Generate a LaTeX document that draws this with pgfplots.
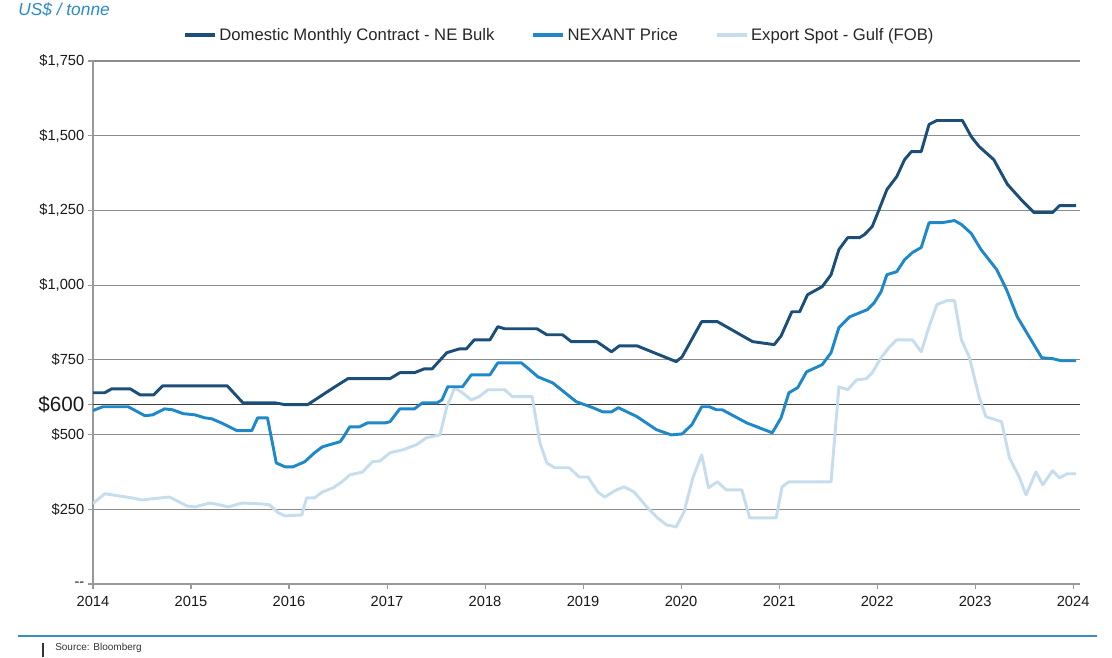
\documentclass[border=0pt]{standalone}
\usepackage{pgfplots}
\pgfplotsset{compat=1.18}
\usepackage{fontspec}
\setmainfont{Liberation Sans}
\definecolor{domc}{HTML}{1B4F7A}
\definecolor{nexc}{HTML}{1F88C8}
\definecolor{expc}{HTML}{C6DDEE}
\definecolor{ttl}{HTML}{2A8BC8}
\definecolor{rule}{HTML}{3A8FC4}
\begin{document}
\begin{tikzpicture}
\useasboundingbox (0pt,0pt) rectangle (834pt,492.75pt);
\begin{axis}[
  at={(69.75pt,54.75pt)}, anchor=south west,
  scale only axis, width=740.25pt, height=392.25pt,
  xmin=2014, xmax=2024.07, ymin=0, ymax=1750,
  axis lines=left,
  axis line style={-, draw=black!40, line width=0.9pt},
  xtick={2014,2015,2016,2017,2018,2019,2020,2021,2022,2023,2024},
  xticklabels={2014,2015,2016,2017,2018,2019,2020,2021,2022,2023,2024},
  ytick={0,250,500,750,1000,1250,1500,1750},
  yticklabels={{-{}-},\$250,\$500,\$750,{\$1,000},{\$1,250},{\$1,500},{\$1,750}},
  extra y ticks={600},
  extra y tick labels={{\fontsize{15.5}{17}\selectfont\$600}},
  extra y tick style={grid style={black!75, line width=1.1pt}},
  ymajorgrids,
  grid style={black!45, line width=0.8pt},
  tick align=outside,
  major tick length=4pt,
  tick style={black!40, line width=0.8pt},
  ticklabel style={font=\fontsize{11}{13}\selectfont, text=black!90},
  xticklabel style={yshift=-2pt},
  yticklabel style={xshift=1pt},
  /pgf/number format/assume math mode=true,
  legend columns=3,
  legend style={at={(0.473,1.0497)}, anchor=center, draw=none, fill=none,
    font=\fontsize{12.5}{15}\selectfont, text=black!85,
    /tikz/every even column/.append style={column sep=26pt},
    inner sep=0pt},
  legend image code/.code={\draw[#1, line width=2.4pt] (0pt,0pt) -- (22.5pt,0pt);},
  every axis plot/.append style={line width=2.2pt, line join=round, mark=none},
]
\addplot[expc, forget plot] coordinates {
(2014.00,270) (2014.02,275) (2014.12,302) (2014.20,298) (2014.40,288) (2014.50,281)
(2014.60,285) (2014.78,291) (2014.96,261) (2015.04,258) (2015.19,271) (2015.29,265)
(2015.38,258) (2015.52,271) (2015.72,268) (2015.80,265) (2015.89,238) (2015.96,228)
(2016.13,231) (2016.18,288) (2016.26,288) (2016.34,308) (2016.45,322) (2016.54,342)
(2016.62,365) (2016.75,375) (2016.85,409) (2016.93,412) (2017.03,439) (2017.16,449)
(2017.30,466) (2017.40,489) (2017.54,499) (2017.61,593) (2017.69,656) (2017.77,640)
(2017.86,616) (2017.94,627) (2018.03,650) (2018.20,650) (2018.28,627) (2018.48,627)
(2018.56,472) (2018.63,405) (2018.71,389) (2018.86,389) (2018.96,358) (2019.05,358)
(2019.15,308) (2019.22,291) (2019.34,315) (2019.42,325) (2019.52,308) (2019.65,258)
(2019.76,221) (2019.85,198) (2019.95,191) (2020.03,241) (2020.12,355) (2020.21,432)
(2020.28,322) (2020.37,342) (2020.46,315) (2020.62,315) (2020.70,221) (2020.97,221)
(2021.03,325) (2021.10,342) (2021.53,342) (2021.61,660) (2021.70,650) (2021.79,683)
(2021.89,687) (2021.95,707) (2022.04,757) (2022.12,791) (2022.20,817) (2022.36,817)
(2022.45,777) (2022.53,861) (2022.61,935) (2022.71,948) (2022.79,948) (2022.86,817)
(2022.94,760) (2023.04,627) (2023.11,560) (2023.27,543) (2023.35,422) (2023.45,358)
(2023.52,298) (2023.62,375) (2023.69,332) (2023.79,379) (2023.86,355) (2023.94,369)
(2024.03,369)
};
\addplot[nexc, forget plot] coordinates {
(2014.00,580) (2014.02,583) (2014.10,593) (2014.36,593) (2014.53,563) (2014.61,566)
(2014.73,586) (2014.81,583) (2014.92,570) (2015.04,566) (2015.14,556) (2015.21,553)
(2015.31,539) (2015.47,513) (2015.62,513) (2015.68,556) (2015.78,556) (2015.87,405)
(2015.96,392) (2016.04,392) (2016.16,409) (2016.26,439) (2016.34,459) (2016.52,476)
(2016.55,489) (2016.62,526) (2016.72,526) (2016.80,539) (2016.98,539) (2017.03,543)
(2017.13,586) (2017.28,586) (2017.36,606) (2017.51,606) (2017.56,616) (2017.62,660)
(2017.77,660) (2017.86,700) (2018.05,700) (2018.13,740) (2018.37,740) (2018.43,724)
(2018.54,693) (2018.69,673) (2018.93,610) (2019.10,590) (2019.20,576) (2019.29,576)
(2019.36,590) (2019.55,560) (2019.75,516) (2019.90,499) (2020.01,502) (2020.11,533)
(2020.21,593) (2020.29,593) (2020.36,583) (2020.42,583) (2020.67,539) (2020.93,506)
(2021.02,556) (2021.10,640) (2021.19,657) (2021.28,710) (2021.44,734) (2021.53,774)
(2021.61,858) (2021.72,894) (2021.90,918) (2021.97,941) (2022.04,978) (2022.10,1035)
(2022.20,1045) (2022.28,1085) (2022.36,1109) (2022.45,1126) (2022.53,1209) (2022.66,1209)
(2022.79,1216) (2022.86,1203) (2022.96,1173) (2023.06,1119) (2023.22,1052) (2023.32,985)
(2023.43,894) (2023.57,817) (2023.68,757) (2023.79,754) (2023.88,747) (2024.03,747)
};
\addplot[domc, forget plot] coordinates {
(2014.00,640) (2014.12,640) (2014.19,653) (2014.38,653) (2014.48,633) (2014.62,633)
(2014.71,663) (2015.37,663) (2015.53,606) (2015.86,606) (2015.96,600) (2016.19,600)
(2016.45,656) (2016.60,687) (2017.03,687) (2017.13,707) (2017.28,707) (2017.38,720)
(2017.46,720) (2017.61,774) (2017.74,787) (2017.81,787) (2017.89,817) (2018.05,817)
(2018.13,861) (2018.20,854) (2018.53,854) (2018.63,834) (2018.79,834) (2018.88,811)
(2019.14,811) (2019.29,777) (2019.37,797) (2019.55,797) (2019.95,744) (2020.01,760)
(2020.21,878) (2020.37,878) (2020.73,811) (2020.95,801) (2021.02,830) (2021.13,911)
(2021.21,911) (2021.29,968) (2021.44,995) (2021.53,1035) (2021.61,1119) (2021.70,1159)
(2021.82,1159) (2021.87,1169) (2021.95,1196) (2022.02,1253) (2022.10,1320) (2022.20,1363)
(2022.28,1420) (2022.35,1447) (2022.45,1447) (2022.53,1538) (2022.61,1551) (2022.87,1551)
(2022.96,1497) (2023.04,1464) (2023.19,1420) (2023.33,1337) (2023.47,1286) (2023.60,1243)
(2023.79,1243) (2023.86,1266) (2024.03,1266)
};
\addlegendimage{domc}
\addlegendentry{Domestic Monthly Contract - NE Bulk}
\addlegendimage{nexc}
\addlegendentry{NEXANT Price}
\addlegendimage{expc}
\addlegendentry{Export Spot - Gulf (FOB)}
\end{axis}
\node[anchor=north west, inner sep=0pt, text=ttl, font=\fontsize{13}{15}\selectfont\itshape] at (13.5pt,491pt) {US\$ / tonne};
\draw[rule, line width=1pt] (13.5pt,15.75pt) -- (822.75pt,15.75pt);
\draw[black!80, line width=1.2pt] (32.25pt,0pt) -- (32.25pt,10.5pt);
\node[anchor=west, inner sep=0pt, text=black!80, font=\fontsize{7.5}{9}\selectfont] at (41.25pt,6.5pt) {Source: Bloomberg};
\end{tikzpicture}
\end{document}
